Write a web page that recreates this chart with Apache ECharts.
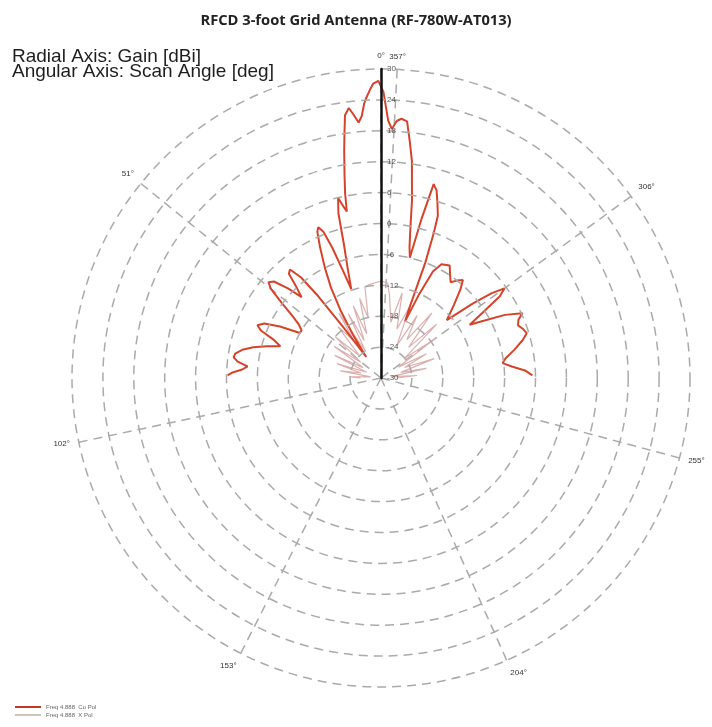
<!DOCTYPE html>
<html><head><meta charset="utf-8">
<script src="https://cdn.jsdelivr.net/npm/echarts@6/dist/echarts.min.js"></script>
<style>html,body{margin:0;padding:0;background:#fff}#c{width:712px;height:727px}</style>
</head><body><div id="c"></div>
<script>
const titleText = 'RFCD 3-foot Grid Antenna (RF-780W-AT013)';
const axisNotes = ['Radial Axis: Gain [dBi]', 'Angular Axis: Scan Angle [deg]'];
const seriesNames = ['Freq 4.888  Co Pol', 'Freq 4.888  X Pol'];
const radialMin = -30, radialMax = 30, radialStep = 6;
const angleMin = 0, angleMax = 360, angleStep = 51;

// Co-pol: scan angle (deg, + = counter-clockwise) and gain (dBi)
const coAngles = [-89,-87,-85,-83,-81,-78,-75,-72.9,-71,-69,-67,-65.4,-63,-61,-59,-57,-55.5,-54,-52.5,-51,-48.7,-45,-42,-39.9,-38,-36,-34,-31.4,-28,-26,-24.5,-23,-22,-21,-20,-19.3,-18,-16.5,-15.2,-14.3,-13.5,-12.3,-11,-9.9,-8.1,-6.9,-5.8,-4.5,-3.5,-2.5,-1.6,-0.5,
  0.5,1.5,2.2,3,3.5,4.2,5,6,6.8,7.8,8.5,9.2,10.2,11,11.6,12.3,13.4,14.5,15.5,17,18.5,19.5,20.5,21.5,22.6,23.5,25,27,29,31,33,35,36.5,37.5,38.5,40,41.5,43,44.5,46,48,49.6,51,53,55,57,59,61,63,65,66.9,68.5,70.5,72.5,74.5,76.5,78.5,80.5,82,83.5,85,86.5,88,89];
const coGain = [-0.6,-2,-4.5,-6.2,-5.5,-3.5,-1.5,-0.4,-0.8,-1.5,-1,0.2,-3,-7,-9.9,-6,-2,-0.4,-3,-7,-13,-10,-7,-5.2,-6,-7,-6,-4.4,-5,-7,-12,-18,-15,-6,0,3.4,5.5,8,9,2,-6,-4,0,5,12.6,16.4,20.1,20.5,20,18.4,20,25.5,
  27.7,27.2,26,24.5,23.4,21,19.8,21.5,22.8,21.5,18,14.7,10,6.5,3,4,6,3,-3,-8,-11.8,-8,-3,0.5,1.7,1,-2,-6,-10,-15,-20,-25,-18,-10,-5,-2.5,-3,-6,-8,-5,-2,-1.3,-2.5,-6,-9,-11,-12,-12,-8,-5,-3.9,-5,-8,-9.5,-7,-4.5,-2.5,-1.3,-1.1,-2,-4,-3,-1,-0.2];

// Cross-pol
const xAngles = [-90,-86,-82,-78,-74,-70,-66,-62,-58,-54,-50,-46,-42,-38,-34,-30,-26,-22,-18,-14,-10,-6,-4,0,4,8,10,12,15,18,21,24,27,30,33,36,40,44,48,52,56,60,64,68,72,76,80,84,88,90];
const xGain = [-27,-23,-28,-21,-26,-19,-25,-20,-26,-17,-24,-15,-22,-14,-21,-16,-23,-15,-20,-13,-19,-14,-11.5,-11.2,-11.5,-11.8,-12,-18,-14,-21,-15,-22,-16,-24,-15,-21,-17,-24,-18,-25,-19,-26,-20,-27,-21,-26,-22,-28,-24,-26];

function toPolar(angles, gains) {
  return angles.map((a, i) => [gains[i], a < 0 ? a + 360 : a]);
}

const chart = echarts.init(document.getElementById('c'), null, {renderer: 'canvas'});
chart.setOption({
  backgroundColor: '#fff',
  animation: false,
  title: {
    text: titleText, left: 'center', top: 8,
    textStyle: {fontFamily: 'Open Sans', fontWeight: 'bold', fontSize: 14.7, color: '#222'}
  },
  graphic: [
    {type: 'text', left: 12, top: 47, style: {text: axisNotes[0], font: '19px "Liberation Sans"', fill: '#1e1e1e'}},
    {type: 'text', left: 12, top: 62, style: {text: axisNotes[1], font: '19px "Liberation Sans"', fill: '#1e1e1e'}}
  ],
  legend: {
    orient: 'vertical', left: 10, top: 699, itemWidth: 26, itemHeight: 2, itemGap: 2,
    icon: 'rect',
    textStyle: {fontSize: 6, color: '#666', fontFamily: 'Liberation Sans'},
    data: seriesNames
  },
  polar: {center: [381, 378], radius: 309},
  angleAxis: {
    type: 'value', min: angleMin, max: angleMax, interval: angleStep,
    startAngle: 90, clockwise: false,
    axisLine: {show: false},
    axisTick: {show: false},
    axisLabel: {
      margin: 9, fontSize: 8, color: '#333', fontFamily: 'Liberation Sans',
      formatter: v => (v >= 360 ? '' : v + '°')
    },
    splitLine: {show: true, lineStyle: {color: '#aaa', width: 1.5, type: [9, 6]}}
  },
  radiusAxis: {
    type: 'value', min: radialMin, max: radialMax, interval: radialStep,
    axisLine: {show: true, lineStyle: {color: '#111', width: 2.5}},
    axisTick: {show: false},
    axisLabel: {fontSize: 8, color: '#555', fontFamily: 'Liberation Sans', margin: -6, align: 'left'},
    splitLine: {show: true, lineStyle: {color: '#aaa', width: 1.5, type: [9, 6]}},
    z: 10
  },
  series: [
    {
      name: seriesNames[0], type: 'line', coordinateSystem: 'polar',
      data: toPolar(coAngles, coGain), showSymbol: false, smooth: false,
      lineStyle: {color: '#d6432b', width: 2}, itemStyle: {color: '#c0392b'}, z: 5
    },
    {
      name: seriesNames[1], type: 'line', coordinateSystem: 'polar',
      data: toPolar(xAngles, xGain), showSymbol: false,
      lineStyle: {color: '#dcb0b0', width: 1.2}, itemStyle: {color: '#c8c8b8'}, z: 4
    }
  ]
});
</script>
</body></html>
